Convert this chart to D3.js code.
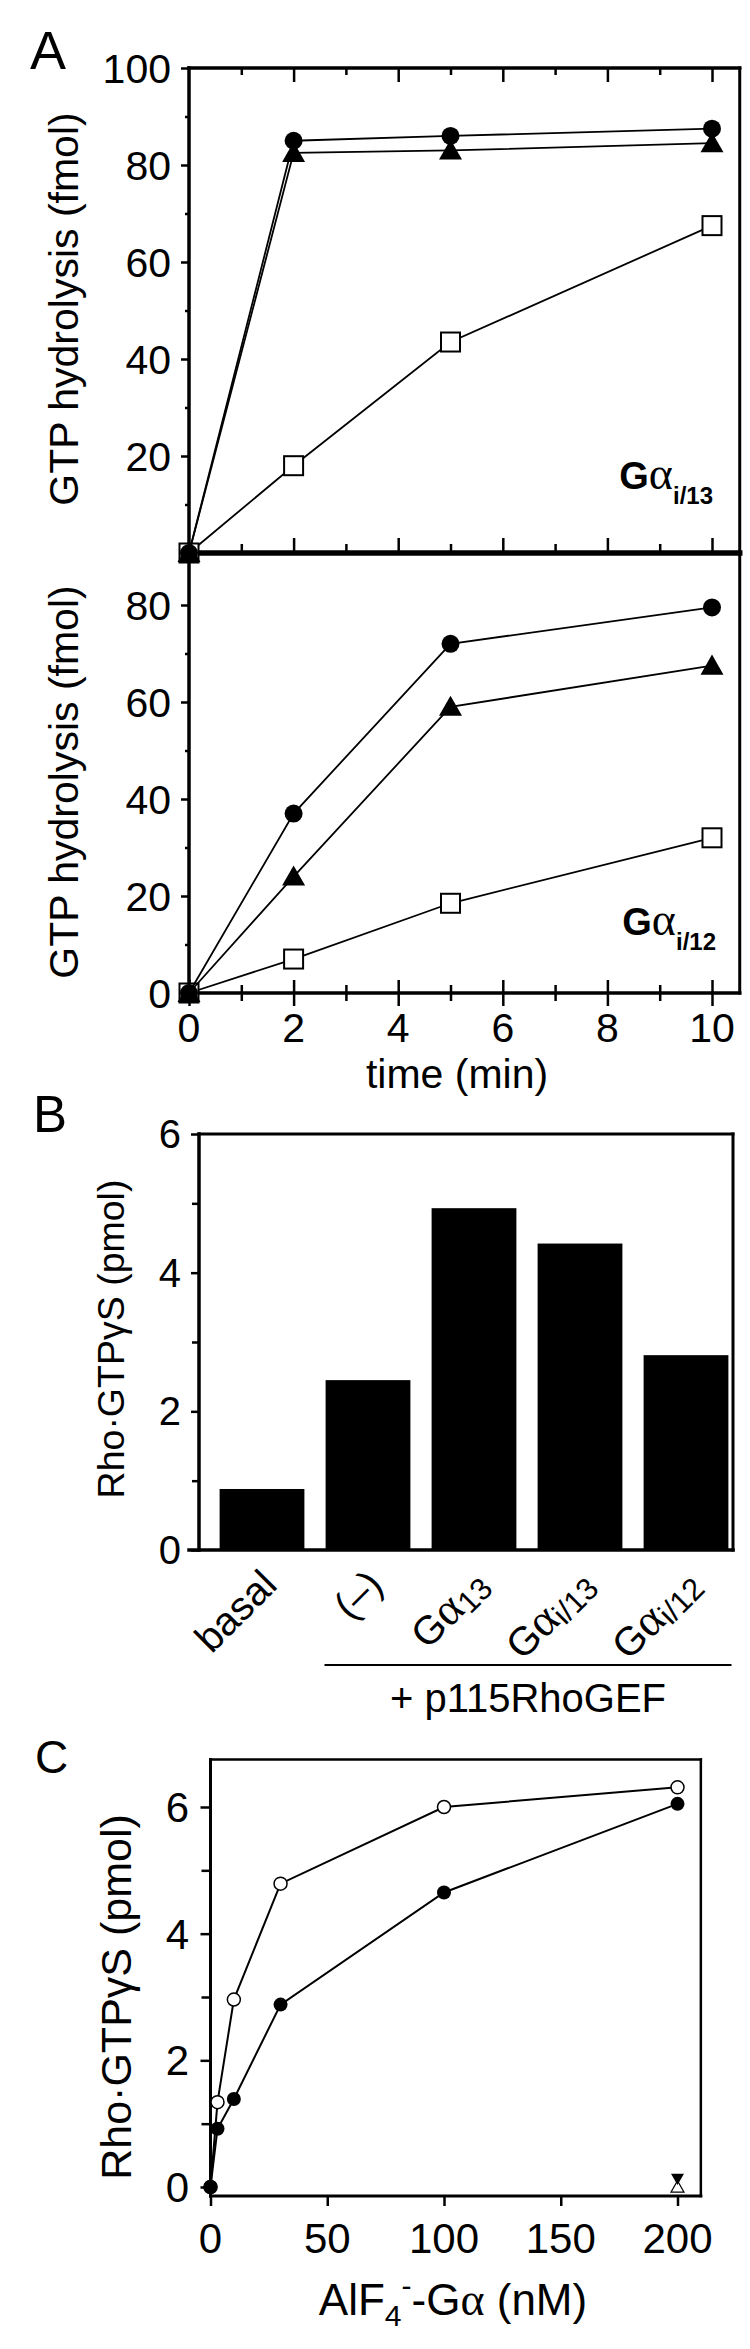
<!DOCTYPE html>
<html><head><meta charset="utf-8">
<script src="https://cdn.jsdelivr.net/npm/d3@7"></script>
<style>
html,body{margin:0;padding:0;background:#fff;}
svg{display:block;}
text{font-family:"Liberation Sans", Arial, Helvetica, sans-serif; fill:#000;}
</style></head><body>
<svg id="chart" width="750" height="2349"></svg>
<script>
// ---------------- DATA ----------------
// Panel A: GTP hydrolysis time course
const timeMin = [0, 2, 5, 10];
const gi13Circle = [0, 85, 86, 87.5];
const gi13Triangle = [0, 82.5, 83, 84.5];
const gi13Square = [0, 18, 43.5, 67.5];
const gi12Circle = [0, 37, 72, 79.5];
const gi12Triangle = [0, 24, 59, 67.5];
const gi12Square = [0, 7, 18.5, 32];
const timeTicksMajor = [0, 2, 4, 6, 8, 10];
const timeTicksMinor = [1, 3, 5, 7, 9];
const hydroTicksTop = [20, 40, 60, 80, 100];
const hydroMinorTop = [10, 30, 50, 70, 90];
const hydroTicksBottom = [0, 20, 40, 60, 80];
const hydroMinorBottom = [10, 30, 50, 70];

// Panel B: bar chart
const barCategories = ["basal", "(–)", "Gα13", "Gαi/13", "Gαi/12"];
const barValues = [0.88, 2.45, 4.93, 4.42, 2.81];
const rhoTicksB = [0, 2, 4, 6];
const rhoMinorB = [1, 3, 5];

// Panel C: dose response
const alfConc = [0, 3, 10, 30, 100, 200];
const rhoOpen = [0, 1.34, 2.96, 4.79, 6.0, 6.31];
const rhoFilled = [0, 0.92, 1.39, 2.88, 4.65, 6.05];
const controlConc = [200];
const controlFilledDown = [0.12];
const controlOpenUp = [0.0];
const alfTicks = [0, 50, 100, 150, 200];
const rhoTicksC = [0, 2, 4, 6];
const rhoMinorC = [1, 3, 5];

// ---------------- DRAWING ----------------
const SERIF = '"Liberation Serif", "DejaVu Serif", serif';
const svg = d3.select("#chart");

function tickAxis(parent, axisFn, scale, vals, size, transform, sw) {
  const g = parent.append("g").attr("transform", transform)
    .call(axisFn(scale).tickValues(vals).tickSize(size).tickFormat(""));
  g.select(".domain").remove();
  g.selectAll(".tick line").attr("stroke", "#000").attr("stroke-width", sw || 2.5);
  g.selectAll(".tick text").remove();
  return g;
}
function seg(parent, x1, y1, x2, y2, sw) {
  parent.append("line").attr("x1", x1).attr("y1", y1).attr("x2", x2).attr("y2", y2)
    .attr("stroke", "#000").attr("stroke-width", sw).attr("stroke-linecap", "square");
}
function triPath(s, down) {
  const h = s * 0.87;
  return down
    ? `M0,${h*0.5} L${s/2},${-h*0.5} L${-s/2},${-h*0.5} Z`
    : `M0,${-h*0.55} L${s/2},${h*0.45} L${-s/2},${h*0.45} Z`;
}

// ===== Panel A =====
const gA = svg.append("g");
const xA = d3.scaleLinear().domain([0, 10]).range([189, 712]);
const yTop = d3.scaleLinear().domain([0, 100]).range([553, 68]);
const yBot = d3.scaleLinear().domain([0, 80]).range([993, 605]);
const aLeft = xA(0), aRight = xA(10.53), aTop = yTop(100), aSep = yTop(0), aBottom = yBot(0);

// ticks
tickAxis(gA, d3.axisLeft, yTop, hydroTicksTop, 8, `translate(${aLeft},0)`);
tickAxis(gA, d3.axisLeft, yTop, hydroMinorTop, 4, `translate(${aLeft},0)`);
tickAxis(gA, d3.axisLeft, yBot, hydroTicksBottom, 8, `translate(${aLeft},0)`);
tickAxis(gA, d3.axisLeft, yBot, hydroMinorBottom, 4, `translate(${aLeft},0)`);
tickAxis(gA, d3.axisBottom, xA, timeTicksMajor.filter(d => d > 0), 14, `translate(0,${aTop})`);
tickAxis(gA, d3.axisBottom, xA, timeTicksMinor, 7, `translate(0,${aTop})`);
tickAxis(gA, d3.axisTop, xA, timeTicksMajor.filter(d => d > 0), 15, `translate(0,${aSep})`);
tickAxis(gA, d3.axisTop, xA, timeTicksMinor, 9, `translate(0,${aSep})`);
tickAxis(gA, d3.axisBottom, xA, timeTicksMajor, 13, `translate(0,${aBottom})`);
tickAxis(gA, d3.axisTop, xA, timeTicksMajor, 13, `translate(0,${aBottom})`);
tickAxis(gA, d3.axisBottom, xA, timeTicksMinor, 8, `translate(0,${aBottom})`);
tickAxis(gA, d3.axisTop, xA, timeTicksMinor, 8, `translate(0,${aBottom})`);

// frame
seg(gA, aLeft, aTop, aRight, aTop, 3.5);
seg(gA, aRight, aTop, aRight, aBottom, 3);
seg(gA, aLeft, aTop, aLeft, aBottom, 3.5);
seg(gA, aLeft, aBottom, aRight, aBottom, 3.5);
seg(gA, aLeft, aSep, aRight, aSep, 5.5);

// tick labels
gA.append("g").selectAll("text").data(hydroTicksTop).join("text")
  .attr("x", 171).attr("y", d => yTop(d) + 14.5).attr("text-anchor", "end")
  .attr("font-size", 41).text(d => d);
gA.append("g").selectAll("text").data(hydroTicksBottom).join("text")
  .attr("x", 171).attr("y", d => yBot(d) + 14.5).attr("text-anchor", "end")
  .attr("font-size", 41).text(d => d);
gA.append("g").selectAll("text").data(timeTicksMajor).join("text")
  .attr("x", d => xA(d)).attr("y", 1042).attr("text-anchor", "middle")
  .attr("font-size", 41).text(d => d);

// axis titles
gA.append("text").attr("transform", "translate(78,309) rotate(-90)")
  .attr("text-anchor", "middle").attr("font-size", 41).text("GTP hydrolysis (fmol)");
gA.append("text").attr("transform", "translate(78,782) rotate(-90)")
  .attr("text-anchor", "middle").attr("font-size", 41).text("GTP hydrolysis (fmol)");
gA.append("text").attr("x", 457).attr("y", 1088).attr("text-anchor", "middle")
  .attr("font-size", 41).text("time (min)");
gA.append("text").attr("x", 30).attr("y", 69).attr("font-size", 54).text("A");

function gaLabel(parent, x, y, sub) {
  const t = parent.append("text").attr("x", x).attr("y", y).attr("text-anchor", "end").attr("font-size", 38);
  t.append("tspan").attr("font-weight", "bold").text("G");
  t.append("tspan").attr("font-family", SERIF).attr("font-size", 46).text("α");
  t.append("tspan").attr("font-weight", "bold").attr("font-size", 24).attr("dy", 15).text(sub);
}
gaLabel(gA, 713, 489, "i/13");
gaLabel(gA, 716, 935, "i/12");

function drawSeries(parent, ys, yScale, kind) {
  const line = d3.line().x((d, i) => xA(timeMin[i])).y(d => yScale(d));
  parent.append("path").attr("d", line(ys)).attr("fill", "none")
    .attr("stroke", "#000").attr("stroke-width", 1.8);
  const pts = parent.append("g").selectAll("g").data(ys).join("g")
    .attr("transform", (d, i) => `translate(${xA(timeMin[i])},${yScale(d)})`);
  if (kind === "circle") pts.append("circle").attr("r", 9).attr("fill", "#000");
  if (kind === "triangle") pts.append("path").attr("d", triPath(23, false)).attr("fill", "#000");
  if (kind === "square") pts.append("rect").attr("x", -9.5).attr("y", -9.5).attr("width", 19).attr("height", 19)
    .attr("fill", "#fff").attr("stroke", "#000").attr("stroke-width", 2);
}
drawSeries(gA, gi13Square, yTop, "square");
drawSeries(gA, gi13Triangle, yTop, "triangle");
drawSeries(gA, gi13Circle, yTop, "circle");
drawSeries(gA, gi12Square, yBot, "square");
drawSeries(gA, gi12Triangle, yBot, "triangle");
drawSeries(gA, gi12Circle, yBot, "circle");

// ===== Panel B =====
const gB = svg.append("g");
const xB = d3.scaleBand().domain(barCategories).range([209, 739]).paddingInner(0.2).paddingOuter(0.1);
const yB = d3.scaleLinear().domain([0, 6]).range([1550, 1134]);
const bLeft = 199, bRight = 733;

gB.append("g").selectAll("rect").data(barCategories).join("rect")
  .attr("x", d => xB(d)).attr("width", xB.bandwidth())
  .attr("y", (d, i) => yB(barValues[i])).attr("height", (d, i) => yB(0) - yB(barValues[i]))
  .attr("fill", "#000");

tickAxis(gB, d3.axisLeft, yB, rhoTicksB, 8, `translate(${bLeft},0)`);
tickAxis(gB, d3.axisLeft, yB, rhoMinorB, 7, `translate(${bLeft},0)`);
seg(gB, bLeft, yB(6), bRight, yB(6), 3);
seg(gB, bRight, yB(6), bRight, yB(0), 3);
seg(gB, bLeft, yB(6), bLeft, yB(0), 3.5);
seg(gB, bLeft - 10, yB(0), bRight, yB(0), 3.5);

gB.append("g").selectAll("text").data(rhoTicksB).join("text")
  .attr("x", 181).attr("y", d => yB(d) + 14).attr("text-anchor", "end")
  .attr("font-size", 40).text(d => d);

gB.append("text").attr("transform", "translate(124,1339) rotate(-90)")
  .attr("text-anchor", "middle").attr("font-size", 37.5).text("Rho·GTPγS (pmol)");
gB.append("text").attr("x", 33).attr("y", 1132).attr("font-size", 51).text("B");

gB.append("g").selectAll("text").data(barCategories).join("text")
  .attr("transform", d => `translate(${xB(d) + xB.bandwidth() / 2 + 17},1587) rotate(-45)`)
  .attr("text-anchor", "end").attr("font-size", 40)
  .each(function (d) {
    const t = d3.select(this);
    if (d.startsWith("Gα")) {
      t.append("tspan").text("G");
      t.append("tspan").attr("font-family", SERIF).attr("font-size", 46).text("α");
      t.append("tspan").attr("font-size", 31).attr("dy", 5).text(d.slice(2));
    } else {
      t.text(d);
    }
  });
seg(gB, xB(barCategories[1]), 1665, xB(barCategories[4]) + xB.bandwidth() + 2, 1665, 2.2);
gB.append("text").attr("x", 528).attr("y", 1712).attr("text-anchor", "middle")
  .attr("font-size", 40).text("+ p115RhoGEF");

// ===== Panel C =====
const gC = svg.append("g");
const xC = d3.scaleLinear().domain([0, 200]).range([210.5, 677.5]);
const yC = d3.scaleLinear().domain([0, 6]).range([2187, 1807]);
const cLeft = xC(0), cRight = xC(210), cTop = yC(6.75), cAxisY = 2196;

tickAxis(gC, d3.axisLeft, yC, rhoTicksC, 10, `translate(${cLeft},0)`);
tickAxis(gC, d3.axisLeft, yC, rhoMinorC, 9, `translate(${cLeft},0)`);
tickAxis(gC, d3.axisBottom, xC, alfTicks, 10, `translate(0,${cAxisY})`);
seg(gC, cLeft, cTop, cRight, cTop, 2.5);
seg(gC, cRight, cTop, cRight, cAxisY, 2.5);
seg(gC, cLeft, cTop, cLeft, cAxisY, 3);
seg(gC, cLeft, cAxisY, cRight, cAxisY, 3);

gC.append("g").selectAll("text").data(rhoTicksC).join("text")
  .attr("x", 189).attr("y", d => yC(d) + 15).attr("text-anchor", "end")
  .attr("font-size", 42).text(d => d);
gC.append("g").selectAll("text").data(alfTicks).join("text")
  .attr("x", d => xC(d)).attr("y", 2253).attr("text-anchor", "middle")
  .attr("font-size", 42).text(d => d);

gC.append("text").attr("transform", "translate(131,1997) rotate(-90)")
  .attr("text-anchor", "middle").attr("font-size", 43).text("Rho·GTPγS (pmol)");
const xt = gC.append("text").attr("x", 453).attr("y", 2315).attr("text-anchor", "middle").attr("font-size", 44);
xt.append("tspan").text("AlF");
xt.append("tspan").attr("font-size", 30).attr("dy", 11).text("4");
xt.append("tspan").attr("font-size", 30).attr("dy", -30).text("-");
xt.append("tspan").attr("dy", 19).text("-G");
xt.append("tspan").attr("font-family", SERIF).attr("font-size", 46).text("α");
xt.append("tspan").text(" (nM)");
gC.append("text").attr("x", 35).attr("y", 1773).attr("font-size", 46).text("C");

const lineC = ys => d3.line().x((d, i) => xC(alfConc[i])).y(d => yC(d))(ys);
gC.append("path").attr("d", lineC(rhoOpen)).attr("fill", "none").attr("stroke", "#000").attr("stroke-width", 2);
gC.append("path").attr("d", lineC(rhoFilled)).attr("fill", "none").attr("stroke", "#000").attr("stroke-width", 2);
gC.append("g").selectAll("circle").data(rhoOpen).join("circle")
  .attr("cx", (d, i) => xC(alfConc[i])).attr("cy", d => yC(d)).attr("r", 6.5)
  .attr("fill", "#fff").attr("stroke", "#000").attr("stroke-width", 1.5);
gC.append("g").selectAll("circle").data(rhoFilled).join("circle")
  .attr("cx", (d, i) => xC(alfConc[i])).attr("cy", d => yC(d)).attr("r", 7)
  .attr("fill", "#000");
gC.append("g").selectAll("path").data(controlOpenUp).join("path")
  .attr("transform", (d, i) => `translate(${xC(controlConc[i])},${yC(d)})`)
  .attr("d", triPath(13, false)).attr("fill", "#fff").attr("stroke", "#000").attr("stroke-width", 1.2);
gC.append("g").selectAll("path").data(controlFilledDown).join("path")
  .attr("transform", (d, i) => `translate(${xC(controlConc[i])},${yC(d)})`)
  .attr("d", triPath(13, true)).attr("fill", "#000");
</script>
</body></html>
